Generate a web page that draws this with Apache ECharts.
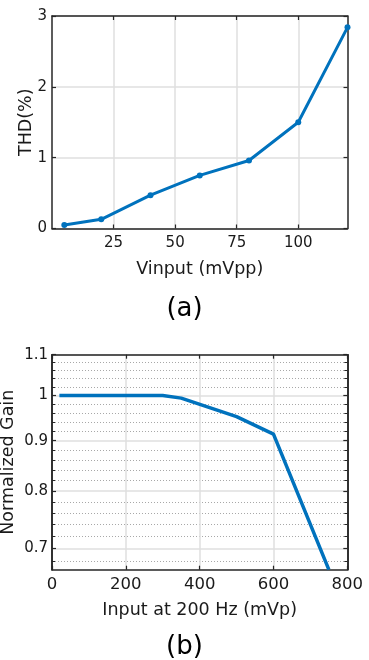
<!DOCTYPE html>
<html>
<head>
<meta charset="utf-8">
<script src="https://cdn.jsdelivr.net/npm/echarts@6/dist/echarts.min.js"></script>
<style>
  html, body { margin: 0; padding: 0; background: #ffffff; }
  #chart { width: 369px; height: 660px; }
</style>
</head>
<body>
<div id="chart"></div>
<script>
// (a) THD versus input amplitude
const thdInput = [5, 20, 40, 60, 80, 100, 120];
const thdValues = [0.05, 0.13, 0.47, 0.75, 0.96, 1.5, 2.84];
const thdXTicks = [25, 50, 75, 100];
const thdYTicks = [0, 1, 2, 3];

// (b) normalized gain versus input amplitude (log-scaled y)
const gainInput = [20, 300, 350, 500, 600, 750];
const gainValues = [1, 1, 0.994, 0.952, 0.914, 0.666];
const gainXTicks = [0, 200, 400, 600, 800];
const gainMajorTicks = [0.7, 0.8, 0.9, 1, 1.1];
const gainMinorTicks = [0.68, 0.72, 0.74, 0.76, 0.78, 0.82, 0.84, 0.86, 0.88,
                        0.92, 0.94, 0.96, 0.98, 1.02, 1.04, 1.06, 1.08];
const gainRange = [0.666, 1.1];

const FONT = 'DejaVu Sans';
const AXIS = '#262626';
const GRID = '#dfdfdf';
const LINE = '#0072BD';

const lg = v => Math.log10(v);
const unlg = v => String(+Math.pow(10, v).toFixed(2));

function boxAxis(extra) {
  return Object.assign({
    nameMoveOverlap: false,
    axisLine: { show: true, onZero: false, lineStyle: { color: AXIS, width: 1.5 } },
    axisTick: { show: true, inside: true, length: 4, lineStyle: { color: AXIS, width: 1.2 } },
    axisLabel: { show: false },
    splitLine: { show: false }
  }, extra);
}

const option = {
  animation: false,
  backgroundColor: '#ffffff',
  textStyle: { fontFamily: FONT },
  title: [
    { text: '(a)', left: 'center', top: 291,
      textStyle: { fontFamily: FONT, fontSize: 26, fontWeight: 'normal', color: '#000' } },
    { text: '(b)', left: 'center', top: 629,
      textStyle: { fontFamily: FONT, fontSize: 26, fontWeight: 'normal', color: '#000' } }
  ],
  grid: [
    { left: 52, right: 21.5, top: 16, height: 212.5, containLabel: false, outerBoundsMode: 'none' },
    { left: 52, right: 21.7, top: 354.7, height: 215, containLabel: false, outerBoundsMode: 'none' }
  ],
  xAxis: [
    boxAxis({
      type: 'value', gridIndex: 0, position: 'bottom', min: 0, max: 120,
      axisTick: { show: true, inside: true, length: 4, customValues: thdXTicks,
                  lineStyle: { color: AXIS, width: 1.2 } },
      axisLabel: { show: true, customValues: thdXTicks, margin: 7,
                   fontFamily: FONT, fontSize: 15, color: '#1a1a1a' },
      splitLine: { show: true, lineStyle: { color: GRID, width: 1.5 } },
      name: 'Vinput (mVpp)', nameLocation: 'middle', nameGap: 32,
      nameTextStyle: { fontFamily: FONT, fontSize: 17.5, color: '#1a1a1a' }
    }),
    boxAxis({
      type: 'value', gridIndex: 0, position: 'top', min: 0, max: 120,
      axisTick: { show: true, inside: true, length: 4, customValues: thdXTicks,
                  lineStyle: { color: AXIS, width: 1.2 } }
    }),
    boxAxis({
      type: 'value', gridIndex: 1, position: 'bottom', min: 0, max: 800, interval: 200,
      axisLabel: { show: true, margin: 7, fontFamily: FONT, fontSize: 16.5, color: '#1a1a1a' },
      splitLine: { show: true, lineStyle: { color: GRID, width: 1.5 } },
      name: 'Input at 200 Hz (mVp)', nameLocation: 'middle', nameGap: 32,
      nameTextStyle: { fontFamily: FONT, fontSize: 17.5, color: '#1a1a1a' }
    }),
    boxAxis({
      type: 'value', gridIndex: 1, position: 'top', min: 0, max: 800, interval: 200
    })
  ],
  yAxis: [
    boxAxis({
      type: 'value', gridIndex: 0, position: 'left', min: 0, max: 3, interval: 1,
      axisLabel: { show: true, margin: 5, fontFamily: FONT, fontSize: 15, color: '#1a1a1a' },
      splitLine: { show: true, lineStyle: { color: GRID, width: 1.5 } },
      name: 'THD(%)', nameLocation: 'middle', nameGap: 17,
      nameTextStyle: { fontFamily: FONT, fontSize: 17.5, color: '#1a1a1a' }
    }),
    boxAxis({
      type: 'value', gridIndex: 0, position: 'right', min: 0, max: 3, interval: 1
    }),
    // major gain ticks, labels and solid grid lines
    boxAxis({
      type: 'value', gridIndex: 1, position: 'left', min: lg(gainRange[0]), max: lg(gainRange[1]),
      axisTick: { show: true, inside: true, length: 4, customValues: gainMajorTicks.map(lg),
                  lineStyle: { color: AXIS, width: 1.2 } },
      axisLabel: { show: true, customValues: gainMajorTicks.map(lg), formatter: unlg, margin: 4,
                   fontFamily: FONT, fontSize: 15, color: '#1a1a1a' },
      splitLine: { show: true, lineStyle: { color: GRID, width: 1.5 } },
      name: 'Normalized Gain', nameLocation: 'middle', nameGap: 35,
      nameTextStyle: { fontFamily: FONT, fontSize: 17.5, color: '#1a1a1a' }
    }),
    // minor gain ticks with dotted grid lines
    boxAxis({
      type: 'value', gridIndex: 1, position: 'left', min: lg(gainRange[0]), max: lg(gainRange[1]),
      axisTick: { show: true, inside: true, length: 3, customValues: gainMinorTicks.map(lg),
                  lineStyle: { color: AXIS, width: 1 } },
      axisLabel: { show: false, customValues: gainMinorTicks.map(lg) },
      splitLine: { show: true, lineStyle: { color: '#a8a8a8', width: 1, type: [1, 2] } }
    }),
    boxAxis({
      type: 'value', gridIndex: 1, position: 'right', min: lg(gainRange[0]), max: lg(gainRange[1]),
      axisTick: { show: true, inside: true, length: 4, customValues: gainMajorTicks.map(lg),
                  lineStyle: { color: AXIS, width: 1.2 } },
      axisLabel: { show: false, customValues: gainMajorTicks.map(lg) }
    }),
    boxAxis({
      type: 'value', gridIndex: 1, position: 'right', min: lg(gainRange[0]), max: lg(gainRange[1]),
      axisTick: { show: true, inside: true, length: 3, customValues: gainMinorTicks.map(lg),
                  lineStyle: { color: AXIS, width: 1 } },
      axisLabel: { show: false, customValues: gainMinorTicks.map(lg) }
    })
  ],
  series: [
    {
      type: 'line', xAxisIndex: 0, yAxisIndex: 0,
      data: thdInput.map((x, i) => [x, thdValues[i]]),
      symbol: 'circle', symbolSize: 6,
      lineStyle: { color: LINE, width: 3 },
      itemStyle: { color: LINE },
      z: 5
    },
    {
      type: 'line', xAxisIndex: 2, yAxisIndex: 2,
      data: gainInput.map((x, i) => [x, lg(gainValues[i])]),
      symbol: 'none', clip: true,
      lineStyle: { color: LINE, width: 3.5 },
      z: 5
    }
  ]
};

const chart = echarts.init(document.getElementById('chart'), null, { renderer: 'canvas' });
chart.setOption(option);
</script>
</body>
</html>
